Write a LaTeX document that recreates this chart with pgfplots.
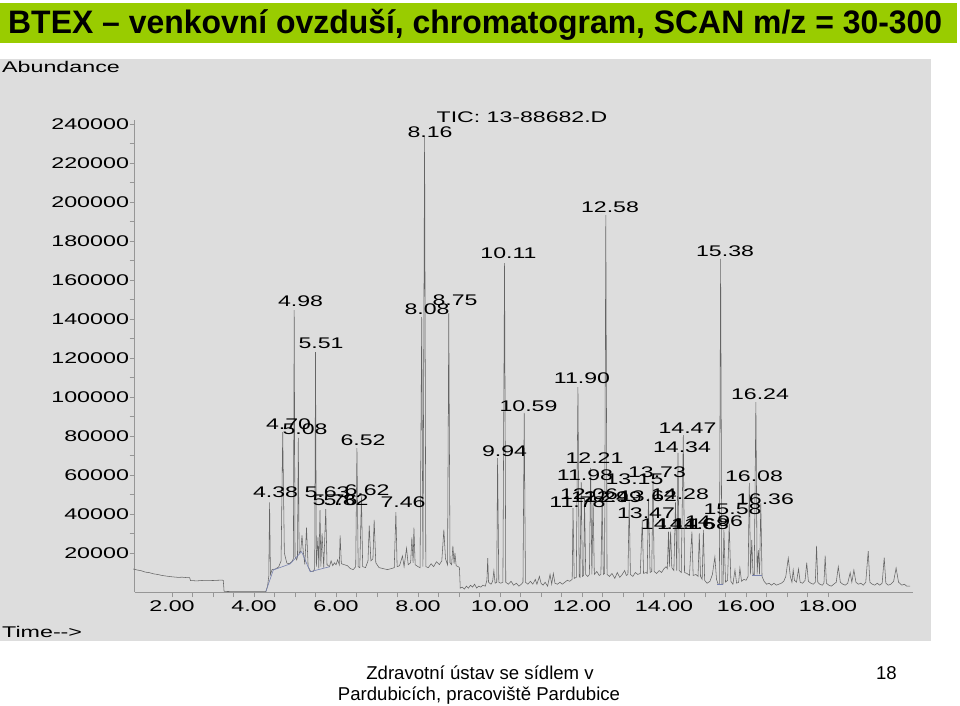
\documentclass[border=0pt]{standalone}
\usepackage{fontspec}
\setmainfont{Liberation Sans}
\newfontfamily\chromfont[FakeStretch=1.5]{Liberation Sans}
\usepackage{pgfplots}
\pgfplotsset{compat=1.18}
\definecolor{titlegreen}{RGB}{153,204,0}
\definecolor{panelgray}{RGB}{221,221,221}
\definecolor{axisgray}{RGB}{150,150,150}
\definecolor{tracegray}{RGB}{100,100,100}
\definecolor{intblue}{RGB}{120,130,175}
\newcommand\cf{\chromfont\fontsize{15.5}{18}\selectfont}
\newcommand\lf{\chromfont\fontsize{15.4}{18}\selectfont}
\begin{document}
\begin{tikzpicture}
\begin{scope}[x=1pt,y=1pt]
\fill[white] (0,0) rectangle (960,705);
\fill[titlegreen] (0,662) rectangle (957,702);
\node[anchor=base west, inner sep=0, font=\bfseries\fontsize{32.5}{36}\selectfont] at (8,671.7) {\resizebox{934pt}{\height}{BTEX – venkovní ovzduší, chromatogram, SCAN m/z = 30-300}};
\fill[panelgray] (0,64) rectangle (931,646);
\node[anchor=base west, inner sep=0, font=\cf] at (2,632.7) {Abundance};
\node[anchor=base west, inner sep=0, font=\cf] at (2,67.3) {Time-{}-{}>};
\node[anchor=base, inner sep=0, font=\fontsize{18.6}{22}\selectfont] at (480,26) {Zdravotní ústav se sídlem v};
\node[anchor=base, inner sep=0, font=\fontsize{18.6}{22}\selectfont] at (479,4.3) {Pardubicích, pracoviště Pardubice};
\node[anchor=base east, inner sep=0, font=\fontsize{18.6}{22}\selectfont] at (897,26) {18};
\end{scope}
\begin{axis}[
  at={(134.5pt,113pt)}, anchor=south west,
  scale only axis, width=778.4pt, height=471.9pt,
  xmin=1.085, xmax=20.07, ymin=0, ymax=242000,
  axis x line=bottom, axis y line=left,
  axis line style={-, draw=axisgray, line width=0.6pt},
  tick style={draw=axisgray, line width=0.6pt},
  tick align=outside,
  major tick length=5pt, minor tick length=5pt,
  scaled y ticks=false, scaled x ticks=false,
  xtick={2,4,6,8,10,12,14,16,18},
  xticklabels={2.00,4.00,6.00,8.00,10.00,12.00,14.00,16.00,18.00},
  minor x tick num=3,
  ytick={20000,40000,60000,80000,100000,120000,140000,160000,180000,200000,220000,240000},
  yticklabels={20000,40000,60000,80000,100000,120000,140000,160000,180000,200000,220000,240000},
  minor y tick num=1,
  ticklabel style={font=\cf, text=black},
  yticklabel style={xshift=3pt},
  clip=false,
]
% main trace
\addplot[tracegray, line width=0.55pt] coordinates {
(1.05,11800) (1.15,11300) (1.25,10900) (1.35,10200) (1.45,9900) (1.55,9300) (1.65,9000) (1.75,8500) (1.85,8200) (1.95,7900) (2.05,7700) (2.15,7500) (2.25,7600) (2.35,7400) (2.43,7400) (2.45,5900) (2.6,5700) (2.8,6000) (3.0,5900) (3.2,6100) (3.25,6000) (3.27,300) (3.5,200) (4.0,200) (4.29,200)
(4.33,3000) (4.36,8000) (4.38,46000) (4.40,9000) (4.44,11500) (4.52,11800) (4.60,12800) (4.66,16000) (4.70,82000) (4.74,20000) (4.80,14800) (4.86,14500) (4.92,15500) (4.96,17000) (4.98,144600) (5.00,18000) (5.04,16500) (5.06,18000) (5.08,79000) (5.10,20000) (5.14,21000) (5.17,29000) (5.20,21000) (5.24,14000) (5.28,33000) (5.32,13000) (5.38,10500) (5.44,10400) (5.48,12000) (5.50,123000) (5.52,13000) (5.56,28000) (5.58,12000) (5.61,42000) (5.63,13000) (5.66,30000) (5.70,12500) (5.75,42500) (5.78,14000) (5.84,13000) (5.88,16000) (5.92,13500) (5.96,15000) (6.00,14000) (6.04,16500) (6.08,14000) (6.10,29000) (6.13,14500) (6.20,14000) (6.28,13500) (6.35,12000) (6.42,11500) (6.48,13000) (6.51,73800) (6.54,13000) (6.58,12500) (6.62,49000) (6.65,13000) (6.72,12500) (6.78,16000) (6.81,34000) (6.85,16000) (6.90,17000) (6.93,37000) (6.97,15000) (7.05,12500) (7.15,12000) (7.25,11500) (7.35,12000) (7.42,12500) (7.46,41000) (7.49,13000) (7.55,13500) (7.62,18500) (7.66,13000) (7.72,22500) (7.76,14000) (7.82,15000) (7.85,28000) (7.88,15000) (7.90,33000) (7.93,14000) (8.00,13000) (8.05,12500) (8.09,141000) (8.12,13000) (8.16,234000) (8.19,13000) (8.25,12500) (8.32,14500) (8.38,13000) (8.45,15500) (8.52,14000) (8.58,16000) (8.63,32000) (8.67,17000) (8.72,14000) (8.75,143000) (8.78,15000) (8.82,14000) (8.85,23700) (8.88,14500) (8.90,20000) (8.93,13500) (8.98,13000) (9.01,12500)
(9.03,2000) (9.08,2500) (9.13,1500) (9.18,3000) (9.23,2000) (9.28,3500) (9.33,2500) (9.38,4000) (9.43,2000) (9.48,3000) (9.53,2500) (9.58,3500) (9.64,3000) (9.68,6000) (9.70,17400) (9.72,5000) (9.78,4000) (9.82,5500) (9.85,11000) (9.88,4500) (9.92,5000) (9.94,68700) (9.97,5000) (10.02,4500) (10.07,5000) (10.11,168700) (10.14,5000) (10.2,4000) (10.27,5500) (10.33,3500) (10.4,4500) (10.46,3000) (10.52,4000) (10.56,5000) (10.59,91800) (10.62,5000) (10.68,4000) (10.74,5500) (10.8,4000) (10.86,6500) (10.9,4000) (10.96,8000) (11.0,4500) (11.05,3500) (11.1,5000) (11.16,3000) (11.22,9000) (11.26,4000) (11.3,9500) (11.34,4500) (11.4,4000) (11.46,5000) (11.52,4000) (11.58,5000) (11.64,6000) (11.7,5500) (11.76,6500) (11.78,43000) (11.81,7000) (11.86,7500) (11.90,105000) (11.93,8000) (11.95,7500) (11.98,56400) (12.01,8000) (12.04,8500) (12.06,48000) (12.09,9000) (12.14,8000) (12.18,9000) (12.21,63600) (12.24,9000) (12.27,47000) (12.3,9000) (12.36,10500) (12.42,8500) (12.46,9000) (12.49,47000) (12.52,9000) (12.55,9500) (12.58,193300) (12.61,9000) (12.67,8000) (12.73,9500) (12.8,7000) (12.86,10000) (12.92,7500) (12.98,9000) (13.04,11000) (13.08,8500) (13.12,9000) (13.15,47000) (13.18,9000) (13.24,8000) (13.3,10000) (13.36,9000) (13.42,9500) (13.47,37000) (13.5,9500) (13.56,10000) (13.59,9500) (13.62,48000) (13.66,10000) (13.70,10500) (13.73,57000) (13.76,10500) (13.82,9500) (13.88,11000) (13.94,10000) (14.0,12000) (14.05,13000) (14.08,12000) (14.11,31000) (14.13,13000) (14.16,31000) (14.19,12500) (14.24,11000) (14.28,46000) (14.31,11000) (14.34,71300) (14.37,11000) (14.42,10000) (14.47,80500) (14.5,10000) (14.56,9500) (14.62,8500) (14.68,31000) (14.71,8500) (14.78,9000) (14.83,8000) (14.86,30000) (14.89,8000) (14.93,6500) (14.96,31800) (14.99,6000) (15.05,4500) (15.12,5500) (15.18,9000) (15.24,18000) (15.28,6500) (15.32,4000) (15.35,4000) (15.38,170800) (15.41,4000) (15.44,4000) (15.46,31800) (15.5,5000) (15.55,6000) (15.59,35000) (15.63,5500) (15.68,4000) (15.73,11300) (15.77,4500) (15.82,5000) (15.85,12300) (15.89,5500) (15.95,6500) (16.0,6000) (16.05,8000) (16.08,55900) (16.11,9000) (16.14,26700) (16.17,9000) (16.2,8500) (16.24,97400) (16.27,9000) (16.3,21500) (16.33,9000) (16.36,45600) (16.39,8000) (16.44,5500) (16.5,4000) (16.56,4500) (16.62,3500) (16.68,4500) (16.74,3500) (16.8,4000) (16.86,4500) (16.92,5500) (16.97,8000) (17.03,17400) (17.08,8000) (17.12,5000) (17.15,11300) (17.18,6000) (17.23,5000) (17.28,11800) (17.32,5000) (17.38,4500) (17.44,6000) (17.48,15000) (17.52,5500) (17.58,4500) (17.64,4000) (17.69,5000) (17.72,23600) (17.75,5000) (17.8,4000) (17.86,3500) (17.9,4500) (17.93,18600) (17.96,4500) (18.02,3500) (18.08,3000) (18.14,4000) (18.2,5000) (18.25,13000) (18.3,5000) (18.36,4000) (18.42,3500) (18.48,4500) (18.54,9900) (18.58,5000) (18.63,11300) (18.68,5000) (18.74,4000) (18.8,4500) (18.86,3500) (18.92,5000) (18.98,21000) (19.02,5000) (19.08,4000) (19.14,3500) (19.2,4500) (19.26,3500) (19.32,4500) (19.37,17600) (19.41,4500) (19.47,3500) (19.53,4000) (19.6,5500) (19.66,12300) (19.72,5000) (19.8,3500) (19.86,4000) (19.92,3000) (20.0,3000)
};
% integration baselines
\addplot[intblue, line width=0.6pt] coordinates {(4.29,300) (4.47,11300) (4.88,14400) (5.16,20700) (5.37,10400) (5.85,13000)};
\addplot[intblue, line width=0.6pt] coordinates {(15.30,3800) (15.45,3800)};
\addplot[intblue, line width=0.6pt] coordinates {(16.15,8500) (16.38,8500)};
% labels
\begin{scope}[every node/.style={font=\lf, inner sep=0, text=black}]
\node at (axis cs:10.537,243580) {TIC: 13-88682.D};
\node at (axis cs:8.293,235890) {8.16};
\node at (axis cs:12.683,197430) {12.58};
\node at (axis cs:10.207,173840) {10.11};
\node at (axis cs:15.488,174870) {15.38};
\node at (axis cs:5.134,149230) {4.98};
\node at (axis cs:8.902,149740) {8.75};
\node at (axis cs:8.220,145120) {8.08};
\node at (axis cs:5.634,127690) {5.51};
\node at (axis cs:12.0,109740) {11.90};
\node at (axis cs:16.341,101530) {16.24};
\node at (axis cs:10.695,95380) {10.59};
\node at (axis cs:4.841,86150) {4.70};
\node at (axis cs:5.244,83590) {5.08};
\node at (axis cs:14.573,84100) {14.47};
\node at (axis cs:6.659,77950) {6.52};
\node at (axis cs:14.439,74360) {14.34};
\node at (axis cs:10.110,72300) {9.94};
\node at (axis cs:12.305,68720) {12.21};
\node at (axis cs:12.073,60000) {11.98};
\node at (axis cs:13.829,61540) {13.73};
\node at (axis cs:13.280,57950) {13.15};
\node at (axis cs:16.195,59490) {16.08};
\node at (axis cs:12.171,50250) {12.06};
\node at (axis cs:14.390,50250) {14.28};
\node at (axis cs:13.610,49230) {13.62};
\node at (axis cs:12.439,48720) {12.29};
\node at (axis cs:12.756,48720) {12.49};
\node at (axis cs:4.524,51280) {4.38};
\node at (axis cs:5.780,51280) {5.63};
\node at (axis cs:6.756,52310) {6.62};
\node at (axis cs:5.976,47180) {5.76};
\node at (axis cs:6.244,47180) {5.82};
\node at (axis cs:7.634,46150) {7.46};
\node at (axis cs:16.463,47690) {16.36};
\node at (axis cs:11.890,46150) {11.78};
\node at (axis cs:15.671,42560) {15.58};
\node at (axis cs:13.561,40510) {13.47};
\node at (axis cs:14.122,34870) {14.11};
\node at (axis cs:14.537,34870) {14.16};
\node at (axis cs:14.878,34870) {14.68};
\node at (axis cs:15.220,36410) {14.96};
\end{scope}
\end{axis}
\end{tikzpicture}
\end{document}
